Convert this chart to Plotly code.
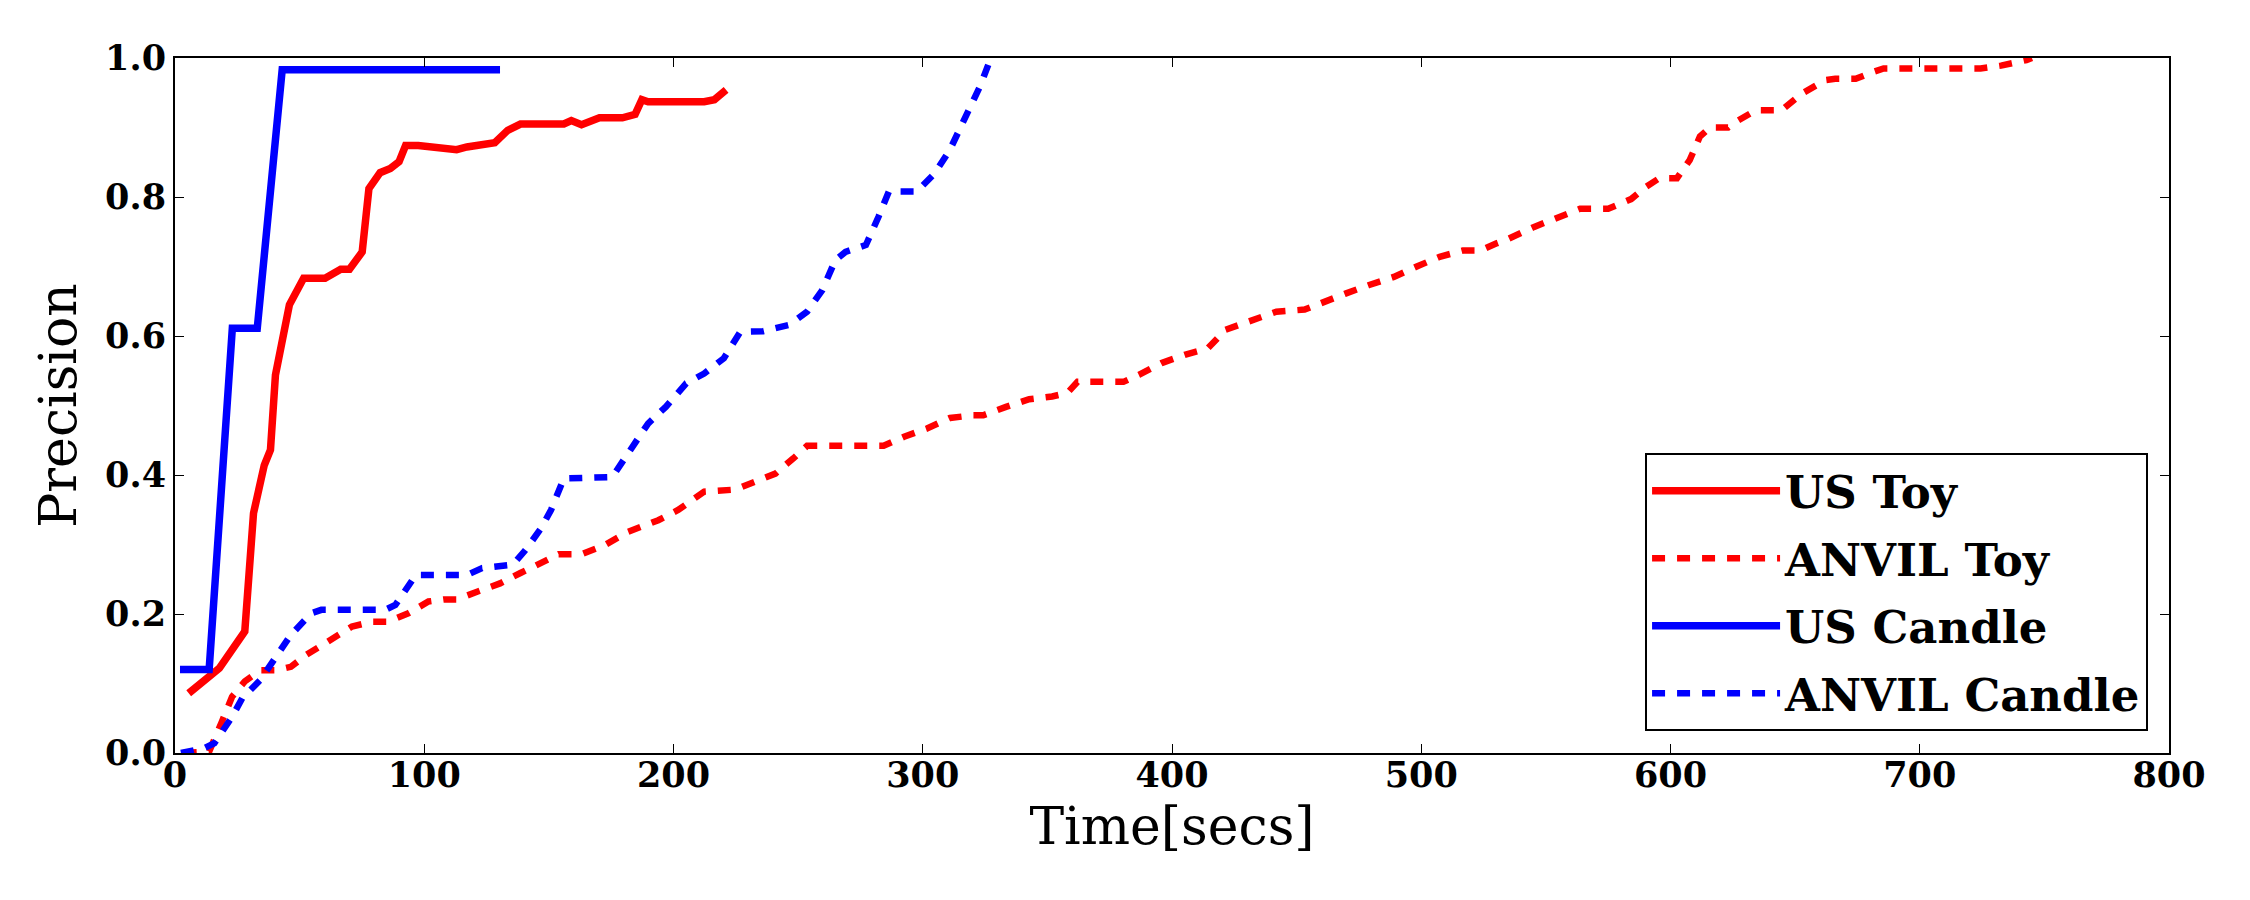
import plotly.graph_objects as go

# ---------------- data ----------------
us_toy_x = [5.5, 17.8, 28, 31.5, 35.8, 38.3, 40.3, 45.9, 51.6, 60.2, 66.5, 70, 75.1, 77.8, 82.3, 86.4,
            89.9, 92.5, 97.6, 113, 117.1, 128.3, 133.5, 138.6, 156, 159, 163.1, 170.3, 179.5, 184.6,
            187.3, 189.8, 212.3, 216.4, 221.1]
us_toy_y = [0.086, 0.122, 0.175, 0.345, 0.414, 0.436, 0.544, 0.645, 0.683, 0.683, 0.696, 0.696, 0.721,
            0.812, 0.835, 0.841, 0.851, 0.874, 0.874, 0.868, 0.872, 0.878, 0.896, 0.905, 0.905, 0.910,
            0.904, 0.914, 0.914, 0.919, 0.940, 0.937, 0.937, 0.940, 0.954]

anvil_toy_x = [3.5, 13.7, 18.8, 22.9, 28, 34.2, 40.3, 46.5, 52.6, 62.8, 71, 79.2, 85.4, 93.6, 101.7,
               107.9, 113, 121.2, 130.4, 138.6, 147.8, 153.9, 163.1, 172.4, 181.6, 193.9, 202, 208.2,
               212.3, 224.6, 232.7, 240.9, 248.1, 253.6, 284.3, 292.5, 301.7, 310.9, 320.2, 324.3,
               333.4, 342.7, 351.9, 358, 362.1, 380.5, 386.7, 395.8, 405.1, 414.3, 421.5, 430.7,
               441.9, 453.2, 459.3, 469.6, 478.8, 489, 498.2, 507.4, 516.7, 523.8, 530, 535.1, 545.3,
               555.6, 563.7, 575, 584.2, 590.3, 595.5, 602.6, 607.7, 611.8, 615.9, 623.1, 626.1,
               634.3, 644.6, 652.8, 662, 666.1, 674.3, 681.4, 685.5, 724.4, 732.6, 742.8, 745]
anvil_toy_y = [0.0, 0.002, 0.045, 0.081, 0.103, 0.119, 0.119, 0.124, 0.141, 0.163, 0.182, 0.189, 0.189,
               0.201, 0.218, 0.221, 0.221, 0.232, 0.244, 0.259, 0.275, 0.286, 0.286, 0.299, 0.318,
               0.335, 0.350, 0.364, 0.376, 0.379, 0.390, 0.402, 0.424, 0.442, 0.442, 0.455, 0.467,
               0.482, 0.486, 0.486, 0.498, 0.509, 0.513, 0.518, 0.534, 0.534, 0.544, 0.561, 0.573,
               0.582, 0.609, 0.621, 0.635, 0.638, 0.647, 0.661, 0.673, 0.685, 0.700, 0.714, 0.723,
               0.723, 0.733, 0.740, 0.757, 0.772, 0.783, 0.783, 0.797, 0.815, 0.827, 0.827, 0.853,
               0.887, 0.900, 0.900, 0.908, 0.925, 0.925, 0.949, 0.968, 0.970, 0.970, 0.980, 0.985,
               0.985, 0.989, 0.997, 1.0]

us_candle_x = [2, 13.7, 23, 33, 43, 130.4]
us_candle_y = [0.12, 0.12, 0.611, 0.611, 0.983, 0.983]

anvil_candle_x = [2.4, 11.7, 15.8, 22.9, 27, 34.2, 41.4, 46.5, 54.6, 58.7, 84.3, 88.4, 96.6, 117.1,
                  123.2, 135.5, 140.6, 146.8, 150.9, 156, 175.4, 181.6, 184.6, 189.8, 196.9, 205.1,
                  212.3, 220.2, 226.8, 236, 246.5, 253.6, 259.7, 264.9, 269, 277.2, 282.3, 286.4,
                  297.6, 304.8, 310.9, 315, 319.1, 323.2, 327.3]
anvil_candle_y = [0.0, 0.007, 0.014, 0.052, 0.079, 0.105, 0.143, 0.170, 0.201, 0.206, 0.206, 0.213,
                  0.256, 0.256, 0.266, 0.271, 0.292, 0.323, 0.350, 0.395, 0.397, 0.429, 0.446, 0.474,
                  0.498, 0.532, 0.546, 0.568, 0.606, 0.607, 0.616, 0.635, 0.666, 0.709, 0.721, 0.731,
                  0.772, 0.808, 0.808, 0.834, 0.868, 0.899, 0.930, 0.961, 1.0]

x_ticks = [0, 100, 200, 300, 400, 500, 600, 700, 800]
y_ticks = [0.0, 0.2, 0.4, 0.6, 0.8, 1.0]
y_tick_text = ["0.0", "0.2", "0.4", "0.6", "0.8", "1.0"]

RED = "#ff0000"
BLUE = "#0000ff"
DASH = "13px,12px"

fig = go.Figure()
fig.add_trace(go.Scatter(x=us_toy_x, y=us_toy_y, mode="lines", name="US Toy", legendgroup="a",
                         line=dict(color=RED, width=7.5)))
fig.add_trace(go.Scatter(x=anvil_toy_x, y=anvil_toy_y, mode="lines", name="ANVIL Toy", legendgroup="b",
                         line=dict(color=RED, width=6.5, dash=DASH)))
fig.add_trace(go.Scatter(x=us_candle_x, y=us_candle_y, mode="lines", name="US Candle", legendgroup="c",
                         line=dict(color=BLUE, width=7.5)))
fig.add_trace(go.Scatter(x=anvil_candle_x, y=anvil_candle_y, mode="lines", name="ANVIL Candle",
                         legendgroup="d", line=dict(color=BLUE, width=6.5, dash=DASH)))

axis_common = dict(
    showline=True, linecolor="black", linewidth=2, mirror="allticks",
    ticks="inside", ticklen=9, tickwidth=1.3, tickcolor="black",
    showgrid=False, zeroline=False,
    tickfont=dict(family="DejaVu Serif", size=35, color="black", weight="bold"),
)

fig.update_layout(
    width=2250, height=900,
    margin=dict(l=175, r=81, t=58, b=147, autoexpand=False),
    paper_bgcolor="white", plot_bgcolor="white",
    xaxis=dict(range=[0, 800], tickvals=x_ticks, ticktext=[str(v) for v in x_ticks],
               ticklabelstandoff=-10,
               title=dict(text="Time[secs]", font=dict(family="DejaVu Serif", size=52, color="black"),
                          standoff=14),
               automargin=False, **axis_common),
    yaxis=dict(range=[0, 1.0], tickvals=y_ticks, ticktext=y_tick_text,
               title=dict(text="Precision", font=dict(family="DejaVu Serif", size=52, color="black"),
                          standoff=12),
               automargin=False, **axis_common),
    legend=dict(x=0.9895, y=0.0317, xanchor="right", yanchor="bottom",
                bgcolor="white", bordercolor="black", borderwidth=2,
                font=dict(family="DejaVu Serif", size=45, color="black", weight="bold"),
                itemwidth=128, tracegroupgap=6, traceorder="grouped"),
    showlegend=True,
)

fig.write_html("out.html")
